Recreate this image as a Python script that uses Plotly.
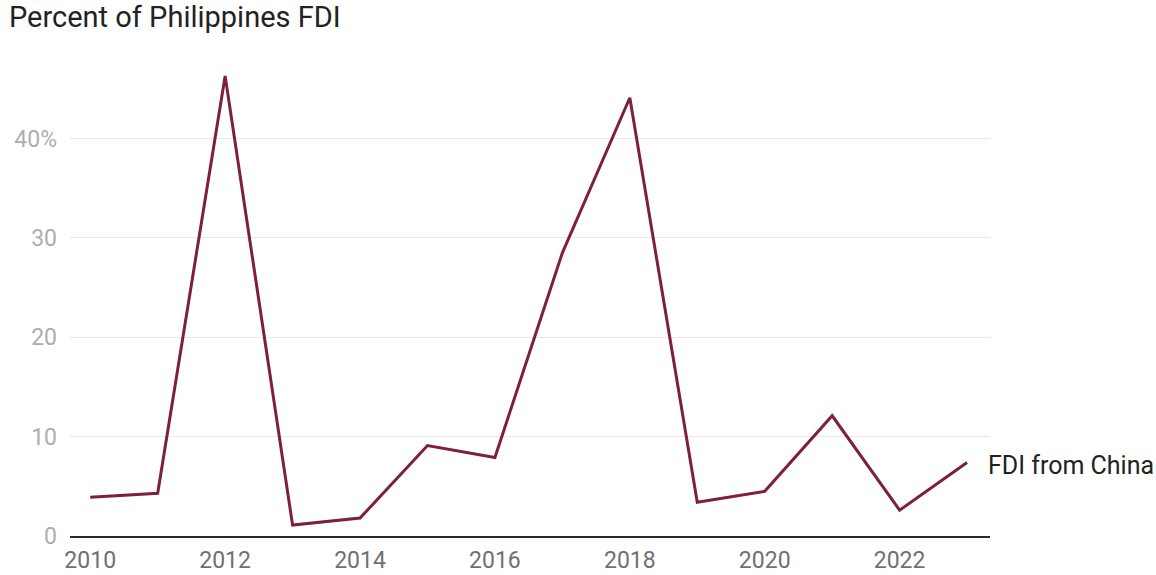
import plotly.graph_objects as go

# Share of Philippine FDI inflows coming from China, by year
years = [2010, 2011, 2012, 2013, 2014, 2015, 2016, 2017, 2018, 2019, 2020, 2021, 2022, 2023]
china_share = [3.9, 4.3, 46.3, 1.1, 1.8, 9.1, 7.9, 28.5, 44.1, 3.4, 4.5, 12.1, 2.6, 7.4]

x_ticks = [2010, 2012, 2014, 2016, 2018, 2020, 2022]
y_ticks = [0, 10, 20, 30, 40]
y_tick_text = ["0", "10", "20", "30", "40%"]

series_name = "FDI from China"
line_color = "#7d1f40"

fig = go.Figure()
fig.add_trace(go.Scatter(
    x=years, y=china_share, mode="lines", name=series_name,
    line=dict(color=line_color, width=3),
    hoverinfo="x+y",
))

fig.add_annotation(
    x=years[-1], y=china_share[-1], text=series_name,
    showarrow=False, xanchor="left", yanchor="middle", xshift=19, yshift=-3,
    font=dict(family="Roboto", size=25, color="#222222"),
)

fig.update_layout(
    width=1156, height=575,
    margin=dict(l=70, r=166, t=60, b=39, autoexpand=False),
    paper_bgcolor="white", plot_bgcolor="white",
    showlegend=False,
    font=dict(family="Roboto"),
    title=dict(
        text="Percent of Philippines FDI",
        x=0, xref="container", xanchor="left",
        y=1, yref="container", yanchor="top",
        pad=dict(l=9, t=7),
        font=dict(family="Roboto", size=29, color="#222222"),
    ),
    xaxis=dict(
        range=[2009.7, 2023.34],
        tickvals=x_ticks,
        showgrid=False, zeroline=False,
        showline=True, linecolor="#2b2b2b", linewidth=2,
        ticks="", ticklabelstandoff=2, automargin=False,
        tickfont=dict(family="Roboto", size=23, color="#707070"),
    ),
    yaxis=dict(
        range=[0, 47.9],
        tickvals=y_ticks, ticktext=y_tick_text,
        showgrid=True, gridcolor="#e8e8e8", gridwidth=1,
        zeroline=False, showline=False,
        ticks="", ticklabelstandoff=12, automargin=False,
        tickfont=dict(family="Roboto", size=23, color="#adadad"),
    ),
)

fig.write_html("out.html")
